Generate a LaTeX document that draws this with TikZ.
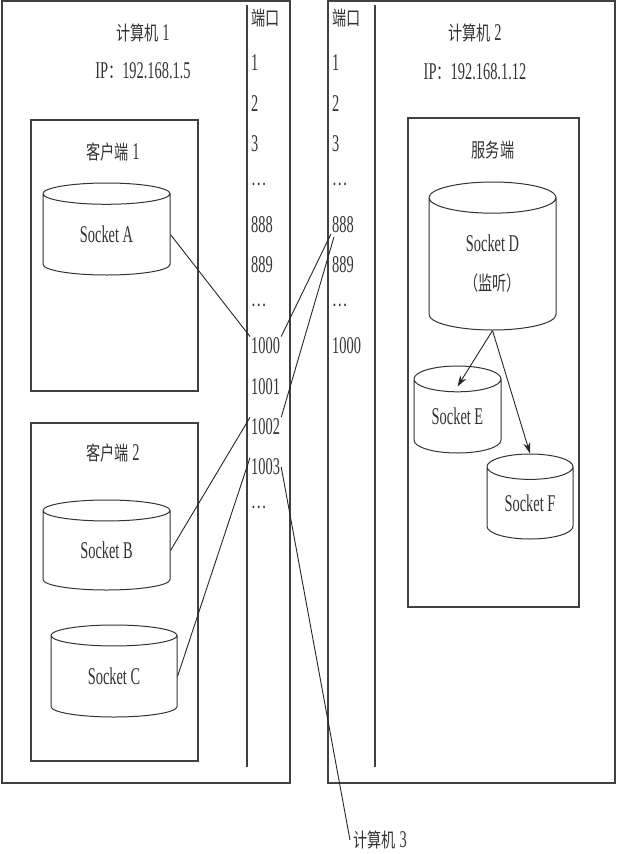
\documentclass[tikz,border=0pt]{standalone}
\usepackage{fontspec}
\setmainfont{Liberation Serif}[FakeStretch=0.6]
\newfontfamily\cjk{Noto Sans CJK SC}[FakeStretch=0.72,Scale=0.82]
\usetikzlibrary{shapes.geometric,arrows.meta}
\newcommand\portdots{{\cjk …}}

\begin{document}
\begin{tikzpicture}[x=1pt,y=-1pt,
    font=\fontsize{24}{28}\selectfont,
    every node/.style={text=black!80},
    box/.style={draw=black!75,line width=1.2pt},
    sock/.style={cylinder,shape border rotate=90,draw=black!80,line width=1pt,
      aspect=0.4,inner sep=0pt,anchor=shape center},
    port/.style={anchor=west,inner sep=1pt},
    link/.style={draw=black!85,line width=0.9pt},
    arr/.style={link,-{Stealth[length=11pt,width=7pt]}}]
  \useasboundingbox (0,0) rectangle (617,854);
  % Computers and port columns
  \draw[box] (2,1) rectangle (290,783);
  \draw[box] (328,1) rectangle (615,783);
  \draw[box] (247,5) -- (247,767);
  \draw[box] (375,5) -- (375,767);
  % Inner boxes
  \draw[box] (31,120) rectangle (198,391);
  \draw[box] (31,423) rectangle (198,761);
  \draw[box] (408,118) rectangle (579,607);
  % Titles
  \node (pc1) at (143,33) {{\cjk 计算机} 1};
  \node (ip1) at (143,71) {IP{\cjk ：}192.168.1.5};
  \node (pc2) at (475,33) {{\cjk 计算机} 2};
  \node (ip2) at (475,72) {IP{\cjk ：}192.168.1.12};
  \node (cl1) at (113,152) {{\cjk 客户端} 1};
  \node (cl2) at (113,453) {{\cjk 客户端} 2};
  \node (srv) at (493,150) {\cjk 服务端};
  \node[anchor=west] (pc3) at (350,840) {{\cjk 计算机} 3};
  % Ports
  \node[port] (phead) at (250,18) {\cjk 端口};
  \node[port] (qhead) at (331,18) {\cjk 端口};
  \foreach \nm/\lab [count=\i from 0] in {1/1,2/2,3/3,d1/\portdots,888/888,889/889,
      d2/\portdots,1000/1000,1001/1001,1002/1002,1003/1003,d3/\portdots}
    \node[port] (p\nm) at (250,63+40.4*\i) {\lab};
  \foreach \nm/\lab [count=\i from 0] in {1/1,2/2,3/3,d1/\portdots,888/888,889/889,
      d2/\portdots,1000/1000}
    \node[port] (q\nm) at (331,63+40.4*\i) {\lab};
  % Sockets
  \node[sock,minimum width=127,minimum height=92] (sA) at (106.5,229) {Socket A};
  \node[sock,minimum width=127,minimum height=90] (sB) at (106.5,545) {Socket B};
  \node[sock,minimum width=126,minimum height=92] (sC) at (114,671) {Socket C};
  \node[sock,minimum width=127,minimum height=148,aspect=0.55,align=center] (sD)
    at (492.5,256) {Socket D\\[11pt]{\cjk （监听）}};
  \node[sock,minimum width=87,minimum height=87,aspect=0.5] (sE) at (457.5,409.5) {Socket E};
  \node[sock,minimum width=86,minimum height=85,aspect=0.5] (sF) at (530,496.5) {Socket F};
  % Connections
  \draw[link] (sA.east) -- (p1000.north west);
  \draw[link] (p1000.north east) -- (q888.south west);
  \draw[link] (sB.east) -- (p1002.north west);
  \draw[link] (p1002.north east) -- ([shift={(3pt,-3pt)}]q888.south west);
  \draw[link] (sC.east) -- (p1003.north west);
  \draw[link] (p1003.east) -- (pc3.west);
  \draw[arr] (sD.south) -- ([yshift=-21pt]sE.north);
  \draw[arr] (sD.south) -- (sF.north);
\end{tikzpicture}
\end{document}
